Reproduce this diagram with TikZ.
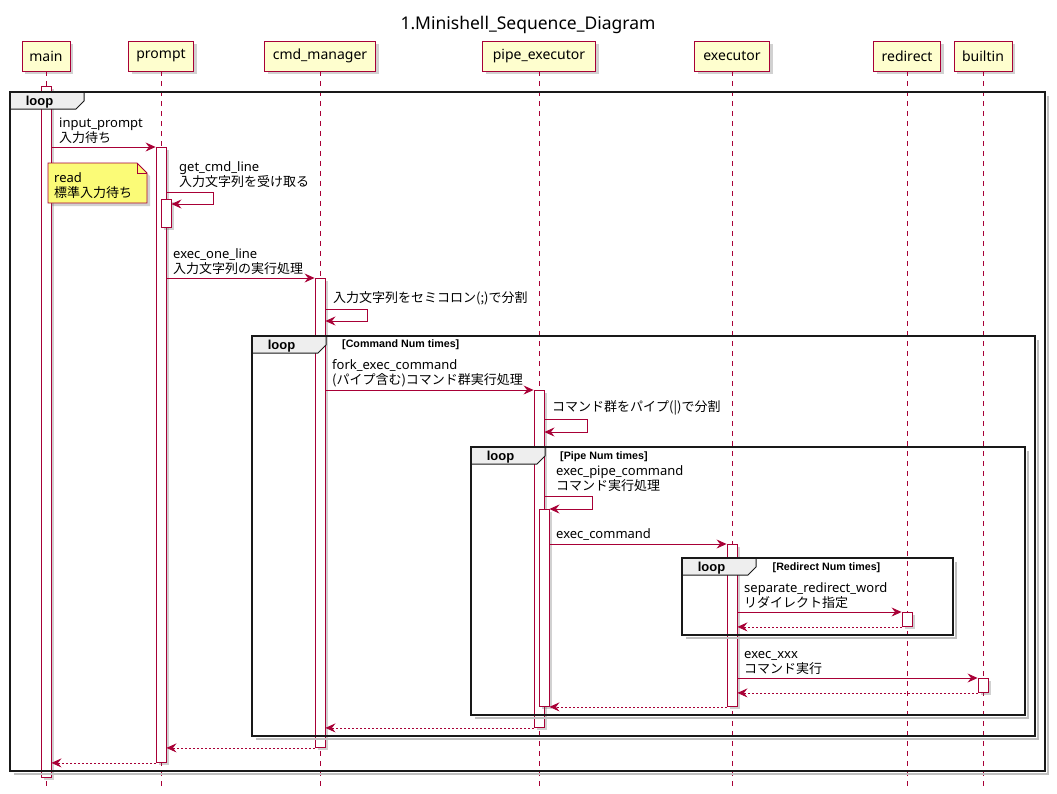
\documentclass[tikz,border=0pt]{standalone}
\usepackage{fontspec}
\setmainfont{Noto Sans}
\newfontfamily\jp{Noto Sans CJK JP}
\newfontfamily\lab{Liberation Sans}
\usetikzlibrary{arrows.meta,shadows}
\definecolor{pred}{HTML}{A80036}
\definecolor{phead}{HTML}{FEFECE}
\definecolor{pnote}{HTML}{FBFB77}
\definecolor{ptab}{HTML}{EEEEEE}
\newcommand\LoopFrame[5]{%
  \draw[fshadow] (#4+3,#3+4) -- (#4+3,#5+3) -- (#2+4,#5+3);
  \draw[tabshape] (#2,#3) -- (#2+74,#3) -- (#2+74,#3+9) -- (#2+66,#3+17) -- (#2,#3+17) -- cycle;
  \draw[frame] (#2,#3) rectangle (#4,#5);
  \node[looplbl] (#1) at (#2+29.5,#3+13.5) {loop};
}
\begin{document}
\begin{tikzpicture}[x=1pt,y=-1pt,
  shadowed/.style={drop shadow={shadow xshift=3pt,shadow yshift=-3pt,opacity=0.3,fill=black!60}},
  head/.style={draw=pred,fill=phead,line width=0.9pt,minimum height=30,inner sep=0pt,font=\fontsize{14}{16}\selectfont,shadowed},
  life/.style={draw=pred,line width=0.8pt,dash pattern=on 5pt off 5pt},
  act/.style={draw=pred,fill=white,line width=0.9pt,minimum width=10,inner sep=0pt,anchor=north,shadowed},
  msg/.style={draw=pred,line width=0.8pt,-{Stealth[length=10pt,width=9pt,inset=3.5pt]}},
  ret/.style={msg,dash pattern=on 2pt off 2pt},
  frame/.style={draw=black!90,line width=1.8pt},
  fshadow/.style={draw=black!25,line width=2pt},
  tabshape/.style={draw=black!90,line width=1pt,fill=ptab},
  looplbl/.style={font=\lab\bfseries\fontsize{13}{15}\selectfont,inner sep=0pt,anchor=base},
  cond/.style={font=\lab\bfseries\fontsize{10.7}{12}\selectfont,inner sep=0pt,anchor=west},
  lbl/.style={font=\fontsize{13}{15}\selectfont,inner sep=0pt,align=left,anchor=south west},
  notebox/.style={draw=pred,fill=pnote,line width=0.8pt,shadowed},
  notefold/.style={draw=pred,line width=0.8pt}
]
\useasboundingbox (0,0) rectangle (1057,793);

% title
\node[font=\fontsize{17.5}{20}\selectfont,anchor=base,inner sep=0pt] (title) at (528,29.5) {1.Minishell\_Sequence\_Diagram};

% participants
\node[head,minimum width=48] (hmain) at (46,56) {main};
\node[head,minimum width=65] (hprompt) at (161,56) {prompt};
\node[head,minimum width=111] (hcmd) at (320,56) {cmd\_manager};
\node[head,minimum width=113] (hpipe) at (539,56) {pipe\_executor};
\node[head,minimum width=75] (hexec) at (732,56) {executor};
\node[head,minimum width=67] (hredir) at (907,56) {redirect};
\node[head,minimum width=58] (hbuilt) at (983,56) {builtin};

% lifelines
\coordinate (emain) at (46,788);
\coordinate (eprompt) at (161,788);
\coordinate (ecmd) at (320,788);
\coordinate (epipe) at (539,788);
\coordinate (eexec) at (732,788);
\coordinate (eredir) at (907,788);
\coordinate (ebuilt) at (983,788);
\draw[life] (hmain.south) -- (emain);
\draw[life] (hprompt.south) -- (eprompt);
\draw[life] (hcmd.south) -- (ecmd);
\draw[life] (hpipe.south) -- (epipe);
\draw[life] (hexec.south) -- (eexec);
\draw[life] (hredir.south) -- (eredir);
\draw[life] (hbuilt.south) -- (ebuilt);

% activations
\node[act,minimum height=691] (amain) at (46,86) {};
\node[act,minimum height=615] (aprompt) at (161,147) {};
\node[act,minimum height=28] (aprompt2) at (166,199) {};
\node[act,minimum height=469] (acmd) at (320,278) {};
\node[act,minimum height=337] (apipe) at (539,390) {};
\node[act,minimum height=197] (apipe2) at (544,509) {};
\node[act,minimum height=162] (aexec) at (732,544) {};
\node[act,minimum height=14] (aredir) at (907,612) {};
\node[act,minimum height=14] (abuilt) at (983,678) {};

% loop frames
\LoopFrame{l1}{10}{92}{1045}{771}
\LoopFrame{l2}{252}{336}{1035}{736}
\node[cond] (c2) at (342,345) {[Command Num times]};
\LoopFrame{l3}{471}{447}{1025}{715}
\node[cond] (c3) at (560,456.5) {[Pipe Num times]};
\LoopFrame{l4}{682}{558}{953}{635}
\node[cond] (c4) at (772.5,567.5) {[Redirect Num times]};

% note
\draw[notebox] (48,163) -- (137,163) -- (147,173) -- (147,203) -- (48,203) -- cycle;
\draw[notefold] (137,163) -- (137,173) -- (147,173);
\node[lbl] (note) at (54,198.5) {read\\\jp 標準入力待ち};

% messages
\draw[msg] (amain.east |- aprompt.north) -- (aprompt.north west);
\node[lbl] (m1) at (59,144) {input\_prompt\\\jp 入力待ち};

\coordinate (s1) at (0,192);
\draw[msg] (aprompt.east |- s1) -- ++(47,0) |- ([yshift=-5pt]aprompt2.north east);
\node[lbl] (m2) at (179,188) {get\_cmd\_line\\\jp 入力文字列を受け取る};

\draw[msg] (aprompt.east |- acmd.north) -- (acmd.north west);
\node[lbl] (m3) at (173,275) {exec\_one\_line\\\jp 入力文字列の実行処理};

\coordinate (s2) at (0,309);
\draw[msg] (acmd.east |- s2) -- ++(42,0) -- ++(0,12) -- ++(-42,0);
\node[lbl] (m4) at (333,305) {\jp 入力文字列をセミコロン(;)で分割};

\draw[msg] (acmd.east |- apipe.north) -- (apipe.north west);
\node[lbl] (m5) at (332,387) {fork\_exec\_command\\\jp (パイプ含む)コマンド群実行処理};

\coordinate (s3) at (0,419);
\draw[msg] (apipe.east |- s3) -- ++(43,0) -- ++(0,13) -- ++(-43,0);
\node[lbl] (m6) at (552,415) {\jp コマンド群をパイプ(|)で分割};

\coordinate (s4) at (0,496);
\draw[msg] (apipe.east |- s4) -- ++(48,0) |- (apipe2.north east);
\node[lbl] (m7) at (556,492) {exec\_pipe\_command\\\jp コマンド実行処理};

\draw[msg] (apipe2.east |- aexec.north) -- (aexec.north west);
\node[lbl] (m8) at (556,541) {exec\_command};

\draw[msg] (aexec.east |- aredir.north) -- (aredir.north west);
\node[lbl] (m9) at (744,609) {separate\_redirect\_word\\\jp リダイレクト指定};
\draw[ret] (aredir.south west) -- (aexec.east |- aredir.south);

\draw[msg] (aexec.east |- abuilt.north) -- (abuilt.north west);
\node[lbl] (m10) at (744,675) {exec\_xxx\\\jp コマンド実行};
\draw[ret] (abuilt.south west) -- (aexec.east |- abuilt.south);

% returns
\draw[ret] (aexec.south west) -- (apipe2.east |- aexec.south);
\draw[ret] (apipe.south west) -- (acmd.east |- apipe.south);
\draw[ret] (acmd.south west) -- (aprompt.east |- acmd.south);
\draw[ret] (aprompt.south west) -- (amain.east |- aprompt.south);
\end{tikzpicture}
\end{document}
